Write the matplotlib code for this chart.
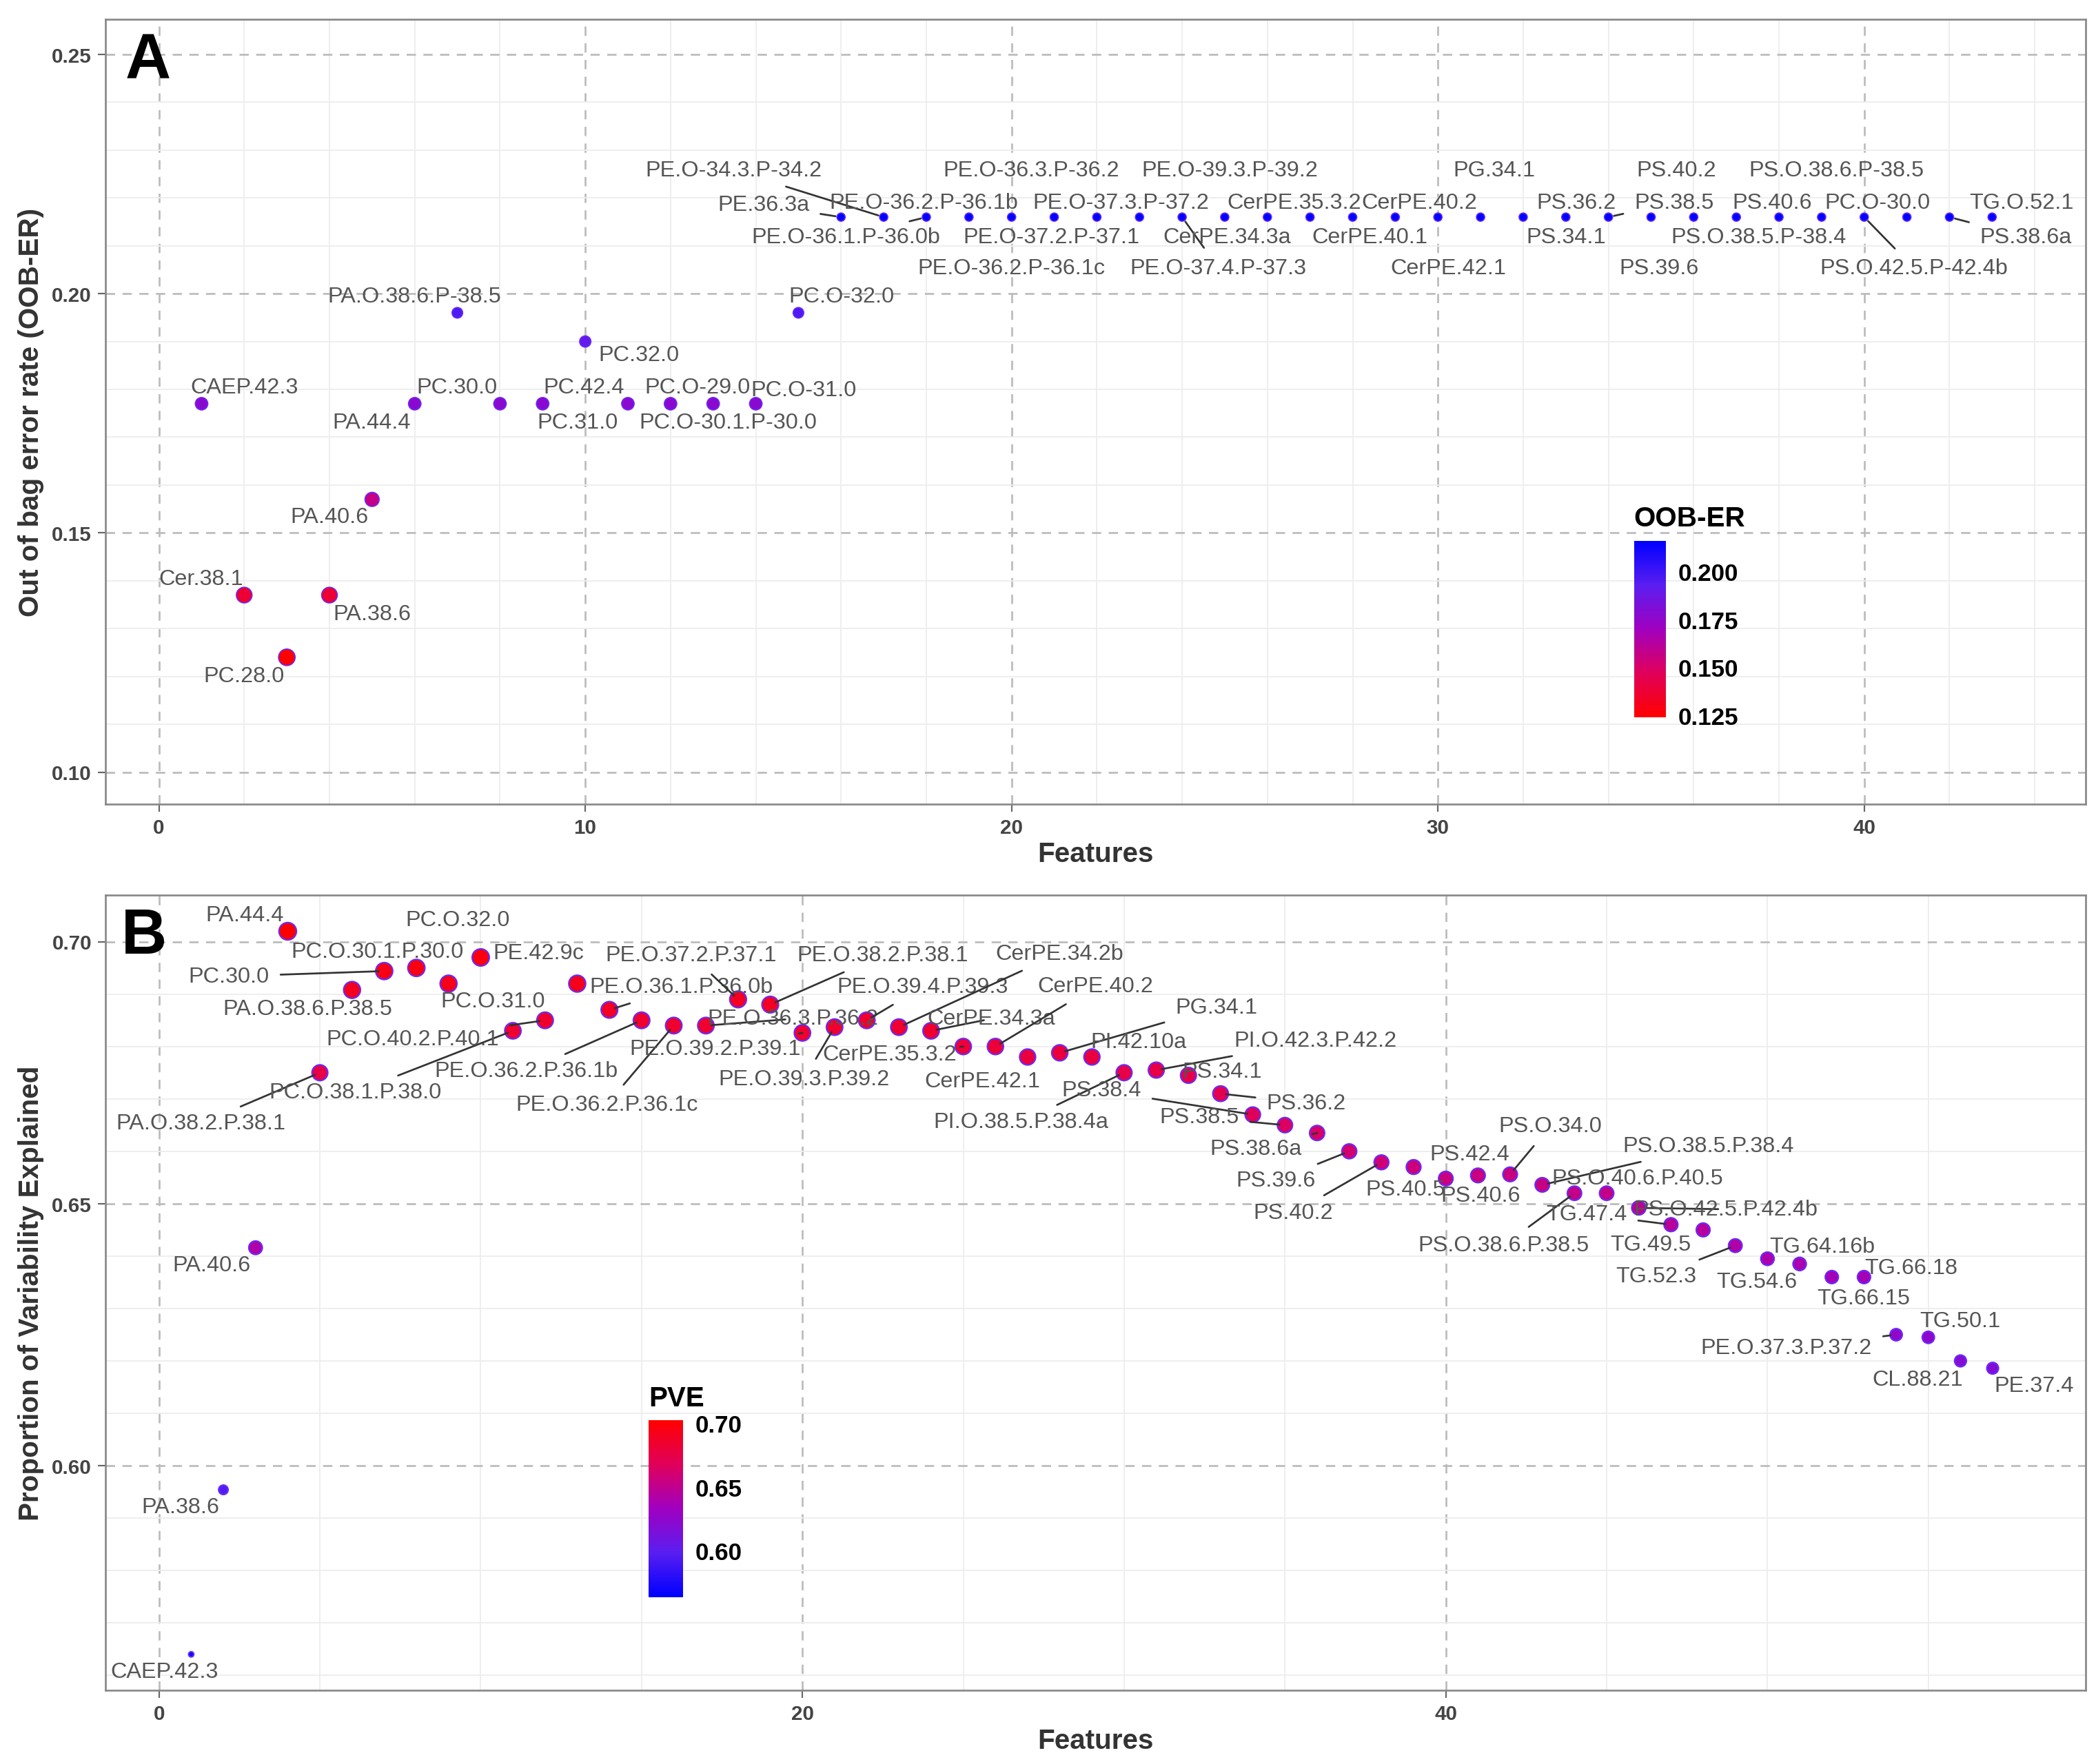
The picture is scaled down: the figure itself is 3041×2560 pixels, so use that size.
import matplotlib
matplotlib.use("Agg")
import matplotlib.pyplot as plt
from matplotlib.colors import LinearSegmentedColormap, Normalize
import numpy as np

plt.rcParams["font.family"] = "Liberation Sans"

# ---------------- Panel A data ----------------
a_features = list(range(1, 44))
a_oob = [0.177, 0.137, 0.124, 0.137, 0.157, 0.177, 0.196, 0.177, 0.177, 0.190,
         0.177, 0.177, 0.177, 0.177, 0.196] + [0.216] * 28
a_labels = ["CAEP.42.3", "Cer.38.1", "PC.28.0", "PA.38.6", "PA.40.6", "PA.44.4",
            "PA.O.38.6.P-38.5", "PC.30.0", "PC.31.0", "PC.32.0", "PC.42.4", "PC.O-29.0",
            "PC.O-30.1.P-30.0", "PC.O-31.0", "PC.O-32.0",
            "PE.36.3a", "PE.O-34.3.P-34.2", "PE.O-36.1.P-36.0b", "PE.O-36.2.P-36.1b",
            "PE.O-36.2.P-36.1c", "PE.O-36.3.P-36.2", "PE.O-37.2.P-37.1", "PE.O-37.3.P-37.2",
            "PE.O-37.4.P-37.3", "PE.O-39.3.P-39.2", "CerPE.34.3a", "CerPE.35.3.2",
            "CerPE.40.1", "CerPE.40.2", "CerPE.42.1", "PG.34.1", "PS.34.1", "PS.36.2",
            "PS.38.5", "PS.39.6", "PS.40.2", "PS.40.6", "PS.O.38.5.P-38.4",
            "PS.O.38.6.P-38.5", "PS.O.42.5.P-42.4b", "PC.O-30.0", "PS.38.6a", "TG.O.52.1"]

# ---------------- Panel B data ----------------
b_features = list(range(1, 58))
b_pve = [0.564, 0.5954, 0.6416, 0.702, 0.675, 0.6908, 0.6944, 0.695, 0.692, 0.697,
         0.683, 0.685, 0.692, 0.687, 0.685, 0.684, 0.684, 0.689, 0.688, 0.6826,
         0.6837, 0.685, 0.6837, 0.683, 0.680, 0.680, 0.678, 0.6788, 0.678, 0.675,
         0.6755, 0.6745, 0.671, 0.667, 0.665, 0.6635, 0.660, 0.6579, 0.657, 0.6548,
         0.6554, 0.6556, 0.6536, 0.652, 0.652, 0.6492, 0.646, 0.645, 0.642, 0.6395,
         0.6385, 0.636, 0.636, 0.625, 0.6245, 0.620, 0.6186]
b_labels = ["CAEP.42.3", "PA.38.6", "PA.40.6", "PA.44.4", "PA.O.38.2.P.38.1",
            "PA.O.38.6.P.38.5", "PC.30.0", "PC.O.30.1.P.30.0", "PC.O.31.0", "PC.O.32.0",
            "PC.O.38.1.P.38.0", "PC.O.40.2.P.40.1", "PE.42.9c", "PE.O.36.1.P.36.0b",
            "PE.O.36.2.P.36.1b", "PE.O.36.2.P.36.1c", "PE.O.36.3.P.36.2", "PE.O.37.2.P.37.1",
            "PE.O.38.2.P.38.1", "PE.O.39.2.P.39.1", "PE.O.39.3.P.39.2", "PE.O.39.4.P.39.3",
            "CerPE.34.2b", "CerPE.34.3a", "CerPE.35.3.2", "CerPE.40.2", "CerPE.42.1",
            "PG.34.1", "PI.42.10a", "PI.O.38.5.P.38.4a", "PI.O.42.3.P.42.2", "PS.34.1",
            "PS.36.2", "PS.38.4", "PS.38.5", "PS.38.6a", "PS.39.6", "PS.40.2", "PS.40.5",
            "PS.40.6", "PS.42.4", "PS.O.34.0", "PS.O.38.5.P.38.4", "PS.O.38.6.P.38.5",
            "PS.O.40.6.P.40.5", "PS.O.42.5.P.42.4b", "TG.47.4", "TG.49.5", "TG.52.3",
            "TG.54.6", "TG.64.16b", "TG.66.15", "TG.66.18", "PE.O.37.3.P.37.2",
            "TG.50.1", "CL.88.21", "PE.37.4"]

# label offsets (reference pixels, +y downward) -- styling
a_off = [(32,-12),(-32,-12),(-32,14),(32,14),(-32,13),(-32,14),(-32,-12),(-32,-12),(26,14),
         (40,10),(-33,-12),(20,-12),(11,14),(36,-10),(32,-12),
         (-58,-9),(-112,-35),(-60,15),(-34,-11),(0,38),(-17,-35),(-34,15),(-14,-11),
         (27,38),(4,-35),(-30,15),(-12,-11),(13,15),(18,-11),(8,38),(10,-35),(32,15),
         (8,-11),(49,-11),(6,38),(-13,-35),(27,-11),(-15,15),(11,-35),(37,38),(-22,-11),
         (57,15),(22,-11)]
b_off = [(-20,13),(-32,13),(-33,13),(-32,-12),(-89,38),(-33,14),(-116,4),(-29,-12),(33,13),
         (-17,-28),(-118,46),(-99,14),(-29,-23),(54,-17),(-86,38),(-50,59),(65,-5),(-35,-33),
         (84,-37),(-65,12),(-23,39),(42,-25),(120,-55),(45,-9),(-55,6),(75,-45),(-34,18),
         (117,-34),(35,-11),(-77,37),(119,-22),(25,-3),(64,7),(-113,-18),(-64,-6),(-46,12),
         (-55,22),(-66,38),(-6,17),(26,13),(-6,-16),(30,-36),(124,-29),(-53,39),(23,-11),
         (65,1),(-63,-8),(-39,11),(-59,23),(-8,17),(17,-13),(24,16),(35,-7),(-82,10),
         (24,-12),(-32,14),(31,13)]

cmap = LinearSegmentedColormap.from_list("rb", ["#FF0000", "#E0005A", "#A000C0", "#5A1EF0", "#0000FF"])

fig = plt.figure(figsize=(15.68, 13.20), dpi=194)
W, H = 1568.0, 1320.0
axA = fig.add_axes([79/W, 1-602/H, (1560-79)/W, (602-15)/H])
axB = fig.add_axes([79/W, 1-1265/H, (1560-79)/W, (1265-670)/H])

def style(ax):
    ax.set_facecolor("white")
    ax.grid(True, which="major", ls=(0, (5, 4)), color="#BBBBBB", lw=1.0)
    ax.minorticks_on()
    ax.grid(True, which="minor", ls="-", color="#EEEEEE", lw=0.7)
    ax.tick_params(which="minor", length=0)
    ax.tick_params(which="major", length=4, color="#666666", labelsize=11, labelcolor="#444444")
    for lab in ax.get_xticklabels() + ax.get_yticklabels():
        lab.set_fontweight("bold")
    for s in ax.spines.values():
        s.set_color("#888888"); s.set_linewidth(1.0)
    ax.set_axisbelow(True)

def annotate(ax, xs, ys, labels, offs):
    for x, y, l, (dx, dy) in zip(xs, ys, labels, offs):
        dist = np.hypot(dx, dy)
        arrow = dict(arrowstyle="-", color="#333333", lw=1.0, shrinkA=4, shrinkB=3) if dist > 45 else None
        ax.annotate(l, (x, y), xytext=(dx * 0.72, -dy * 0.72), textcoords="offset points",
                    ha="center", va="center", fontsize=12, color="#555555", arrowprops=arrow)

# Panel A
normA = Normalize(0.124, 0.216)
sA = [20 + (0.216 - v) / 0.092 * 60 for v in a_oob]
axA.scatter(a_features, a_oob, c=a_oob, cmap=cmap, norm=normA, s=sA,
            edgecolors="#6A2BFF", linewidths=0.6, zorder=3)
annotate(axA, a_features, a_oob, a_labels, a_off)
axA.set_xlim(-1.25, 45.2); axA.set_ylim(0.0933, 0.2573)
axA.set_xticks([0, 10, 20, 30, 40]); axA.set_yticks([0.10, 0.15, 0.20, 0.25])
axA.set_xticklabels(["0", "10", "20", "30", "40"])
axA.set_yticklabels(["0.10", "0.15", "0.20", "0.25"])
style(axA)
axA.set_xlabel("Features", fontsize=15, fontweight="bold", color="#333333", labelpad=2)
axA.set_ylabel("Out of bag error rate (OOB-ER)", fontsize=15, fontweight="bold", color="#333333")
axA.text(0.01, 0.985, "A", transform=axA.transAxes, fontsize=34, fontweight="bold", va="top", ha="left")

caxA = fig.add_axes([1222/W, 1-537/H, 24/W, 132/H])
cbA = fig.colorbar(plt.cm.ScalarMappable(norm=normA, cmap=cmap), cax=caxA)
cbA.set_ticks([0.125, 0.150, 0.175, 0.200])
cbA.ax.tick_params(labelsize=13, length=3, color="white")
for t in cbA.ax.get_yticklabels(): t.set_fontweight("bold")
cbA.outline.set_visible(False)
caxA.set_title("OOB-ER", fontsize=15, fontweight="bold", loc="left", pad=8)

# Panel B
normB = Normalize(0.564, 0.702)
sB = [8 + (v - 0.564) / 0.138 * 80 for v in b_pve]
axB.scatter(b_features, b_pve, c=b_pve, cmap=cmap.reversed(), norm=normB, s=sB,
            edgecolors="#6A2BFF", linewidths=0.8, zorder=3)
annotate(axB, b_features, b_pve, b_labels, b_off)
axB.set_xlim(-1.66, 59.9); axB.set_ylim(0.5571, 0.7089)
axB.set_xticks([0, 20, 40]); axB.set_yticks([0.60, 0.65, 0.70])
axB.set_xticklabels(["0", "20", "40"])
axB.set_yticklabels(["0.60", "0.65", "0.70"])
style(axB)
axB.set_xlabel("Features", fontsize=15, fontweight="bold", color="#333333", labelpad=2)
axB.set_ylabel("Proportion of Variability Explained", fontsize=15, fontweight="bold", color="#333333")
axB.text(0.008, 0.985, "B", transform=axB.transAxes, fontsize=34, fontweight="bold", va="top", ha="left")

caxB = fig.add_axes([485/W, 1-1195/H, 26/W, 132/H])
cbB = fig.colorbar(plt.cm.ScalarMappable(norm=normB, cmap=cmap.reversed()), cax=caxB)
cbB.set_ticks([0.60, 0.65, 0.70])
cbB.ax.tick_params(labelsize=13, length=3, color="white")
for t in cbB.ax.get_yticklabels(): t.set_fontweight("bold")
cbB.outline.set_visible(False)
caxB.set_title("PVE", fontsize=15, fontweight="bold", loc="left", pad=8)

fig.savefig("out.png", dpi=194, facecolor="white")
